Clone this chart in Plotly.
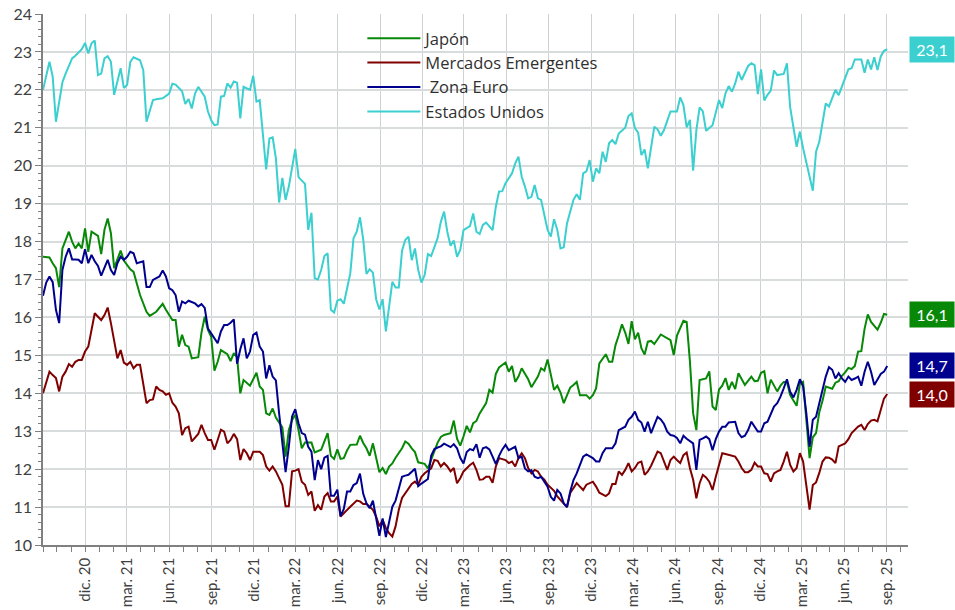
import pandas as pd
import plotly.graph_objects as go

# ---------------- data (weekly index from 2020-09-01) ----------------
inicio = "2020-09-01"

semanas_jp = [0,2,3,4,5,6,8,9,10,11,12,13,14,15,17,18,19,20,21,22,24,25,27,28,30,32,33,35,37,38,40,41,42,43,44,45,46,48,49,50,
              51,52,53,54,55,57,58,59,60,61,62,64,66,67,68,69,70,71,72,74,75,76,77,78,79,80,81,83,84,86,87,88,89,90,91,92,93,94,95,97,
              98,99,100,101,102,103,104,105,106,107,108,109,111,112,113,114,115,116,118,119,120,121,122,123,124,126,127,128,129,130,
              131,132,133,134,135,137,138,139,140,141,143,144,145,146,147,148,150,151,153,154,155,156,157,158,159,160,161,162,163,164,
              165,166,168,169,170,171,172,174,175,176,177,178,179,180,181,182,183,184,185,186,187,188,189,191,192,194,195,196,198,199,
              200,201,202,203,205,206,207,208,209,210,211,212,213,214,215,216,217,219,220,221,222,223,224,225,227,228,229,230,231,233,
              234,235,236,237,238,239,240,241,242,244,245,246,247,248,249,250,251,252,253,254,255,256,258,259,260,261]
japon = [17.6,17.58,17.43,17.3,16.8,17.82,18.26,18.0,17.82,17.95,17.82,18.35,17.73,18.26,18.15,17.67,18.31,18.61,18.22,17.3,
         17.76,17.5,17.27,17.2,16.59,16.15,16.04,16.15,16.36,16.2,15.93,15.93,15.23,15.54,15.27,15.23,14.92,14.95,15.6,16.02,
         15.67,15.49,14.6,14.83,15.14,15.03,14.85,15.06,14.95,14.0,14.35,14.2,14.54,14.18,14.09,13.47,13.43,13.6,13.36,13.1,
         12.33,13.03,13.3,13.43,13.03,12.55,12.7,12.7,12.44,12.51,12.73,12.95,12.35,12.27,12.52,12.27,12.29,12.49,12.64,12.65,
         12.88,12.69,12.55,12.35,12.68,12.33,11.92,12.03,11.87,12.07,12.15,12.3,12.55,12.73,12.67,12.55,12.45,12.18,12.14,12.02,
         12.25,12.52,12.7,12.85,12.9,12.95,13.28,12.8,12.62,12.86,13.14,12.97,13.21,13.27,13.47,13.74,14.09,14.02,14.51,14.68,
         14.81,14.57,14.72,14.3,14.44,14.66,14.37,14.16,14.44,14.66,14.6,14.89,14.44,14.09,14.2,14.02,13.74,13.95,14.15,14.22,
         14.3,13.95,13.95,13.86,13.95,14.13,14.79,15.03,14.83,14.83,15.27,15.53,15.82,15.6,15.3,15.9,15.42,15.6,15.19,15.02,
         15.36,15.38,15.3,15.55,15.5,15.4,15.01,15.52,15.91,15.88,14.85,13.47,13.03,14.35,14.39,14.58,13.65,13.56,14.1,14.2,
         14.4,14.09,14.3,14.11,14.53,14.36,14.22,14.44,14.32,14.33,14.54,14.58,14.0,14.36,14.05,14.2,14.3,14.3,13.95,13.67,
         14.25,14.3,13.4,12.29,12.84,12.95,13.5,13.8,14.18,14.12,14.28,14.32,14.46,14.55,14.67,14.64,14.72,15.1,15.11,15.7,
         16.08,15.88,15.68,15.86,16.09,16.07]

semanas_me = [0,1,2,3,4,5,6,7,8,9,10,11,12,13,14,16,17,18,19,20,21,22,23,24,25,26,27,28,29,30,31,32,33,34,35,36,37,38,39,40,
              41,42,43,44,45,46,48,49,50,51,52,53,54,55,56,57,58,59,60,61,62,63,64,65,67,68,69,70,71,72,74,75,76,77,78,79,80,81,82,83,
              84,85,86,87,88,89,90,91,92,93,94,95,97,98,99,100,101,102,103,104,105,106,107,108,109,110,111,112,114,115,116,117,118,120,
              121,122,123,124,125,126,127,128,129,130,131,132,133,134,135,136,137,138,139,140,141,143,144,145,146,147,148,149,150,151,
              152,153,154,155,156,157,158,159,161,162,163,164,165,166,167,168,169,170,171,172,174,175,176,177,178,179,180,181,182,183,
              184,185,186,187,188,189,190,191,192,193,194,195,196,197,198,199,200,201,202,203,204,205,206,207,208,209,210,211,212,214,
              215,216,217,218,219,220,221,222,223,224,225,226,227,228,229,230,231,232,233,234,235,236,237,238,239,240,241,242,243,244,
              245,246,247,248,249,250,252,253,254,255,256,257,258,259,260,261]
mercados_emergentes = [14.0,14.31,14.57,14.48,14.4,14.05,14.44,14.57,14.77,14.7,14.83,14.88,14.88,15.1,15.23,16.11,16.02,15.93,16.06,16.26,
         15.85,15.41,14.92,15.14,14.81,14.75,14.83,14.66,14.75,14.75,14.18,13.74,13.82,13.84,14.18,14.09,14.05,13.96,14.0,13.75,
         13.65,13.47,12.9,13.08,13.12,12.73,12.93,13.17,12.95,12.77,12.77,12.51,12.77,13.04,12.99,12.68,12.77,12.93,12.79,12.24,
         12.53,12.42,12.24,12.46,12.46,12.37,12.07,11.96,12.07,11.94,11.59,11.02,11.02,11.94,11.96,12.0,11.67,11.59,11.32,11.41,
         10.9,11.05,10.93,11.28,11.37,11.15,11.15,11.28,10.75,10.84,10.93,11.01,11.17,11.15,11.08,11.08,11.01,10.93,10.75,10.49,
         10.66,10.45,10.31,10.22,10.49,10.93,11.24,11.37,11.61,11.67,11.59,11.8,11.89,12.02,12.24,12.22,12.07,12.16,12.07,11.94,
         12.03,11.63,11.76,11.94,12.03,12.11,12.17,11.98,11.72,11.73,11.8,11.8,11.64,12.07,12.29,12.24,12.16,12.2,12.07,12.29,
         12.42,12.29,12.03,11.89,11.98,11.94,11.8,11.72,11.59,11.5,11.43,11.28,11.1,11.0,11.37,11.5,11.63,11.54,11.45,11.59,
         11.63,11.67,11.54,11.38,11.29,11.36,11.61,11.61,11.94,11.85,11.98,12.16,11.94,12.03,12.17,12.2,11.85,11.94,12.09,12.29,
         12.46,12.42,12.2,11.98,12.24,12.33,12.24,12.16,12.37,12.44,12.03,11.72,11.23,11.63,11.85,11.78,11.67,11.45,11.8,12.11,
         12.42,12.4,12.37,12.33,12.2,12.03,11.92,11.92,11.98,12.17,12.07,12.07,11.89,11.87,11.67,11.89,11.94,11.98,12.2,12.46,
         12.11,11.94,12.03,12.42,12.2,11.6,10.93,11.58,11.65,11.9,12.2,12.31,12.3,12.25,12.16,12.6,12.64,12.68,12.79,12.95,
         13.12,13.17,13.03,13.19,13.28,13.3,13.26,13.56,13.86,13.98]

semanas_ze = [0,1,2,3,4,5,6,7,8,9,10,11,12,13,14,15,16,17,18,19,20,21,22,23,24,25,26,27,28,29,31,32,33,34,35,36,37,38,39,40,
              41,42,43,44,45,46,47,48,49,50,51,52,53,54,55,56,57,58,59,60,61,62,63,64,65,66,67,68,69,70,71,72,73,75,76,77,78,79,80,81,
              82,83,84,85,86,87,88,89,90,91,92,93,94,95,96,97,98,99,100,101,102,103,104,105,106,107,108,109,111,112,113,115,116,117,
              119,120,121,122,123,124,125,126,127,128,129,130,131,132,133,134,135,136,137,138,139,140,141,142,143,144,146,147,148,149,
              150,151,152,153,154,156,157,158,159,160,161,162,163,164,165,166,167,168,170,171,172,173,174,176,177,178,180,181,182,183,
              184,185,186,187,188,189,190,191,192,193,194,195,196,197,198,199,200,201,202,203,204,205,206,207,208,209,210,211,212,213,
              214,215,216,217,218,219,220,221,222,223,224,226,227,228,229,230,231,232,233,234,235,236,237,238,239,240,241,242,243,244,
              245,246,247,248,249,250,251,252,253,254,255,256,257,258,259,260,261]
zona_euro = [16.57,16.92,17.08,16.93,16.2,15.85,17.25,17.6,17.82,17.53,17.53,17.52,17.43,17.8,17.43,17.65,17.48,17.36,17.1,17.33,
         17.52,17.25,17.12,17.43,17.6,17.52,17.6,17.73,17.69,17.43,17.48,16.8,16.8,16.99,17.03,17.08,17.24,17.08,16.77,16.72,
         16.59,16.15,16.42,16.37,16.44,16.4,16.37,16.29,16.35,16.25,15.71,15.58,15.45,15.32,15.63,15.8,15.8,15.86,15.95,14.78,
         15.16,15.45,14.92,15.1,15.54,15.6,15.23,15.1,14.39,14.74,14.44,14.34,13.47,11.92,12.59,13.39,13.58,13.21,12.95,12.91,
         12.59,12.46,11.71,12.24,12.0,12.3,12.35,11.3,11.3,11.46,10.76,10.95,11.41,11.41,11.58,11.63,11.88,11.35,11.1,10.97,
         11.17,10.68,10.24,10.7,10.21,10.6,11.01,11.17,11.8,11.83,11.85,12.01,11.55,11.62,11.74,12.35,12.53,12.57,12.6,12.67,
         12.62,12.58,12.66,12.55,12.3,12.15,12.45,12.53,12.5,12.66,12.3,12.55,12.58,12.52,12.33,12.13,12.35,12.52,12.64,12.5,
         12.59,12.29,12.33,12.02,11.94,11.97,11.8,11.76,11.8,11.54,11.27,11.17,11.45,11.36,11.1,11.0,11.41,11.71,11.89,12.11,
         12.33,12.39,12.29,12.2,12.2,12.42,12.55,12.55,12.68,13.03,13.12,13.3,13.38,13.52,13.3,13.23,12.99,13.25,12.95,13.17,
         13.38,13.31,13.19,12.99,12.9,12.88,12.82,12.68,12.88,12.8,12.73,12.68,11.98,12.77,12.81,12.86,12.79,12.5,12.79,12.99,
         13.12,13.12,13.23,13.25,13.25,12.95,12.84,12.88,13.03,13.25,13.12,12.99,12.99,13.21,13.25,13.65,13.74,13.91,14.13,14.37,
         14.04,13.89,14.09,14.37,14.18,13.47,12.59,13.3,13.38,13.74,14.09,14.44,14.69,14.62,14.39,14.53,14.39,14.3,14.44,14.35,
         14.39,14.44,14.2,14.57,14.83,14.57,14.22,14.35,14.51,14.57,14.72]

semanas_us = [0,2,3,4,6,7,9,10,12,13,14,15,16,17,18,19,20,21,22,24,25,26,27,28,30,31,32,34,35,37,39,40,41,43,44,45,46,47,48,49,
              50,51,52,53,54,55,56,57,58,59,60,61,62,64,65,66,67,69,70,71,72,73,74,75,76,78,79,81,82,83,84,85,86,87,88,89,90,91,92,93,
              95,96,97,98,99,100,101,102,103,104,105,106,107,108,109,110,111,112,113,114,115,116,117,118,119,120,122,123,124,125,126,
              127,128,129,130,132,133,134,135,136,137,139,140,141,142,143,145,146,147,148,149,150,151,152,153,154,155,156,157,158,159,
              160,161,162,164,165,166,167,168,169,170,171,172,173,174,175,176,177,178,180,181,182,183,184,185,186,187,188,189,190,191,
              192,193,194,196,197,198,199,200,201,202,203,204,205,207,208,209,210,211,212,213,214,215,216,218,219,220,221,222,223,224,
              225,226,227,229,230,231,233,234,235,238,239,240,242,243,244,245,246,248,249,250,251,253,254,255,256,257,258,259,260,261]
estados_unidos = [22.0,22.74,22.35,21.16,22.2,22.43,22.83,22.9,23.07,23.24,22.96,23.23,23.3,22.39,22.43,22.83,22.89,22.74,21.87,22.57,
         22.05,22.13,22.74,22.86,22.78,22.52,21.16,21.73,21.75,21.78,21.9,22.16,22.14,21.96,21.63,21.76,21.51,21.9,22.08,21.95,
         21.82,21.43,21.2,21.07,21.09,21.82,21.84,22.17,22.06,22.22,22.19,21.25,22.08,22.0,22.37,21.69,21.73,19.9,20.72,20.75,
         20.2,19.03,19.68,19.1,19.45,20.44,19.7,19.52,18.31,18.76,17.03,17.0,17.25,17.62,17.69,16.2,16.13,16.44,16.48,16.36,
         17.16,18.09,18.26,18.64,18.06,17.15,17.27,17.18,16.48,16.21,16.48,15.63,16.24,16.94,16.79,16.79,17.76,18.04,18.13,17.51,
         17.82,17.25,16.92,17.12,17.67,17.62,18.09,18.52,18.79,18.26,17.89,18.03,17.6,17.78,18.3,18.41,18.74,18.26,18.2,18.44,
         18.5,18.3,18.92,19.32,19.33,19.54,19.8,20.06,20.24,19.71,19.45,19.14,19.18,19.49,19.14,19.1,18.7,18.31,18.13,18.59,
         18.31,17.82,17.85,18.48,19.1,19.25,19.1,19.8,19.85,20.15,19.58,19.93,19.8,20.37,20.1,20.59,20.68,20.57,20.85,21.0,
         21.31,21.38,20.99,20.87,20.28,20.43,19.93,20.5,21.03,20.96,20.79,20.94,21.21,21.43,21.43,21.8,21.6,21.01,21.21,19.87,
         20.94,21.54,21.43,20.92,21.07,21.43,21.73,21.52,21.91,22.1,21.95,22.17,22.48,22.26,22.63,22.7,22.65,21.89,22.54,21.72,
         21.87,21.98,22.51,22.39,22.42,22.7,21.54,20.5,20.9,20.46,19.34,20.37,20.63,21.64,21.56,21.78,22.0,21.86,22.3,22.54,
         22.57,22.8,22.8,22.45,22.8,22.54,22.86,22.52,22.88,23.03,23.07]

tick_fechas = ["2020-12-01","2021-03-01","2021-06-01","2021-09-01","2021-12-01","2022-03-01","2022-06-01","2022-09-01",
               "2022-12-01","2023-03-01","2023-06-01","2023-09-01","2023-12-01","2024-03-01","2024-06-01","2024-09-01",
               "2024-12-01","2025-03-01","2025-06-01","2025-09-01"]
tick_textos = ["dic. 20","mar. 21","jun. 21","sep. 21","dic. 21","mar. 22","jun. 22","sep. 22","dic. 22","mar. 23",
               "jun. 23","sep. 23","dic. 23","mar. 24","jun. 24","sep. 24","dic. 24","mar. 25","jun. 25","sep. 25"]

# ---------------- figure ----------------
t0 = pd.Timestamp(inicio)
def fechas(semanas):
    return [t0 + pd.Timedelta(days=7 * k) for k in semanas]

series = [
    ("Japón", semanas_jp, japon, "#078807"),
    ("Mercados Emergentes", semanas_me, mercados_emergentes, "#800000"),
    ("\u00a0Zona Euro", semanas_ze, zona_euro, "#00008f"),
    ("Estados Unidos", semanas_us, estados_unidos, "#3bcfcf"),
]

fig = go.Figure()
for nombre, sem, vals, color in series:
    fig.add_trace(go.Scatter(x=fechas(sem), y=vals, mode="lines", name=nombre,
                             line=dict(color=color, width=2)))

for nombre, sem, vals, color in series:
    fig.add_annotation(xref="paper", x=1.001, xanchor="left", yref="y", y=vals[-1],
                       text=f"{vals[-1]:.1f}".replace(".", ","), showarrow=False,
                       font=dict(color="white", size=16, family="Lato"),
                       bgcolor=color, borderpad=3, width=38, align="center")

fig.update_layout(
    template="none",
    width=955, height=610,
    margin=dict(l=43, r=47, t=14, b=65, autoexpand=False),
    plot_bgcolor="white", paper_bgcolor="white",
    font=dict(family="Lato, sans-serif", color="#404040", size=15),
    legend=dict(x=0.3692, y=0.987, xanchor="left", yanchor="top", bgcolor="rgba(0,0,0,0)",
                font=dict(size=16.5, color="#303030", family="Open Sans"), tracegroupgap=0,
                itemwidth=53, borderwidth=0),
    showlegend=True,
)
fig.update_xaxes(
    type="date", range=["2020-09-01", "2025-10-17"], automargin=False,
    tickmode="array", tickvals=tick_fechas, ticktext=tick_textos, tickangle=-90,
    ticks="outside", ticklen=5, tickcolor="#808080", tickwidth=1,
    showgrid=True, gridcolor="#cdd2d2", gridwidth=1,
    showline=True, linecolor="#808080", linewidth=1.5, zeroline=False,
    minor=dict(dtick="M1", tick0="2020-09-01", ticks="outside", ticklen=5, tickcolor="#808080", showgrid=False),
    tickfont=dict(size=15, color="#404040"),
)
fig.update_yaxes(
    range=[10, 24], dtick=1, tick0=10, automargin=False,
    ticks="outside", ticklen=6, tickcolor="#808080", tickwidth=1,
    showgrid=True, gridcolor="#d9dcdc", gridwidth=1.5,
    showline=True, linecolor="#808080", linewidth=1.5,
    minor=dict(dtick=0.2, ticks="outside", ticklen=3, tickcolor="#808080", showgrid=False),
    tickfont=dict(size=16, color="#404040"), zeroline=False,
)

fig.write_html("out.html", config={"displayModeBar": False},
               post_script="document.body.style.margin='0';document.body.style.overflow='hidden';")
